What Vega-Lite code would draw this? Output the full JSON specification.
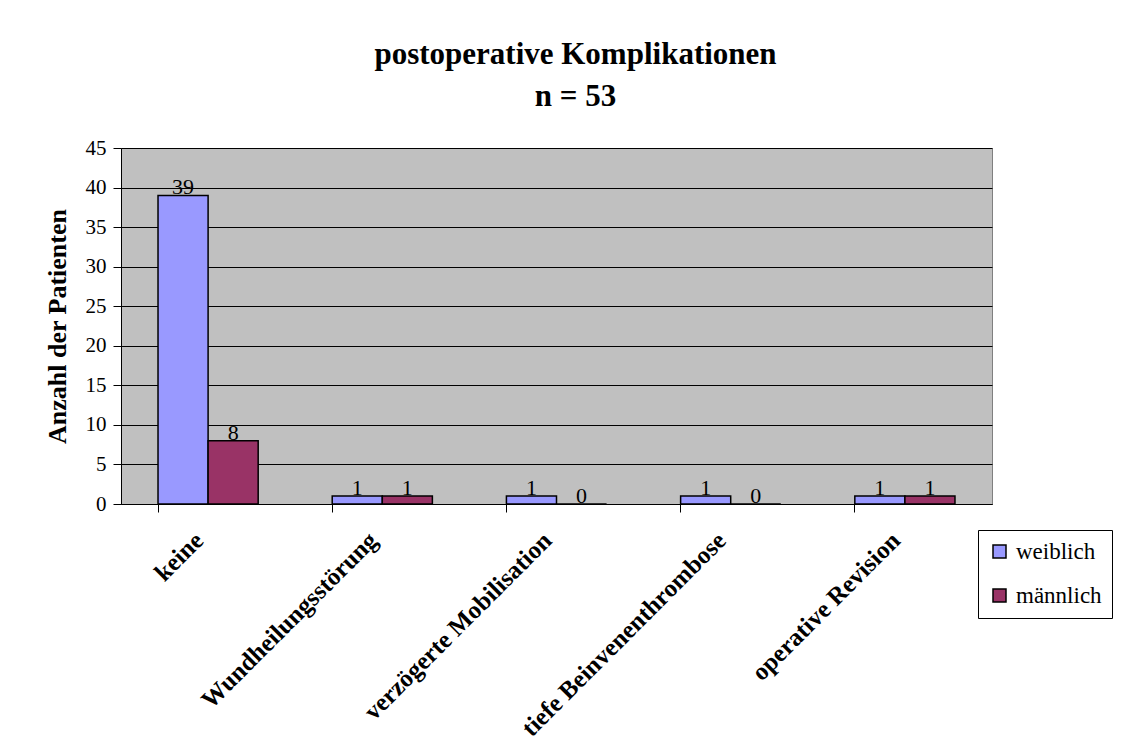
{
  "$schema": "https://vega.github.io/schema/vega-lite/v6.json",
  "autosize": "none",
  "width": 871,
  "height": 356,
  "padding": {"left": 121, "top": 148, "right": 138, "bottom": 247},
  "background": "white",
  "title": {
    "text": ["postoperative Komplikationen", "n = 53"],
    "font": "Liberation Serif",
    "fontSize": 31,
    "fontWeight": "bold",
    "color": "black",
    "lineHeight": 42,
    "anchor": "middle",
    "dx": 19,
    "offset": 24
  },
  "data": {
    "values": [
      {"k": "keine", "g": "weiblich", "n": 39},
      {"k": "keine", "g": "männlich", "n": 8},
      {"k": "Wundheilungsstörung", "g": "weiblich", "n": 1},
      {"k": "Wundheilungsstörung", "g": "männlich", "n": 1},
      {"k": "verzögerte Mobilisation", "g": "weiblich", "n": 1},
      {"k": "verzögerte Mobilisation", "g": "männlich", "n": 0},
      {"k": "tiefe Beinvenenthrombose", "g": "weiblich", "n": 1},
      {"k": "tiefe Beinvenenthrombose", "g": "männlich", "n": 0},
      {"k": "operative Revision", "g": "weiblich", "n": 1},
      {"k": "operative Revision", "g": "männlich", "n": 1}
    ]
  },
  "encoding": {
    "x": {
      "field": "k", "type": "nominal", "sort": null,
      "scale": {"paddingInner": 0.425, "paddingOuter": 0.2125},
      "axis": {
        "title": null, "labelAngle": -45, "labelAlign": "right", "labelBaseline": "middle",
        "labelFont": "Liberation Serif", "labelFontSize": 25, "labelFontWeight": "bold",
        "labelColor": "black", "labelPadding": 24, "labelOffset": -9, "bandPosition": 0,
        "tickSize": 8, "tickColor": "black", "domainColor": "black", "grid": false, "labelLimit": 400
      }
    },
    "xOffset": {"field": "g", "type": "nominal", "sort": ["weiblich", "männlich"], "scale": {"paddingInner": 0, "paddingOuter": 0}},
    "y": {
      "field": "n", "type": "quantitative",
      "scale": {"domain": [0, 45], "nice": false},
      "axis": {
        "title": "Anzahl der Patienten", "titleFont": "Liberation Serif", "titleFontSize": 26,
        "titleFontWeight": "bold", "titleColor": "black", "titlePadding": 15,
        "values": [0, 5, 10, 15, 20, 25, 30, 35, 40, 45],
        "labelFont": "Liberation Serif", "labelFontSize": 21, "labelColor": "black", "labelPadding": 7,
        "tickSize": 8, "tickColor": "black", "domainColor": "black",
        "grid": true, "gridColor": "black", "gridOpacity": 1, "gridWidth": 1
      }
    },
    "color": {
      "field": "g", "type": "nominal", "sort": ["weiblich", "männlich"],
      "scale": {"domain": ["weiblich", "männlich"], "range": ["#9999FF", "#993366"]},
      "legend": {
        "title": null, "orient": "none", "legendX": 857, "legendY": 382,
        "strokeColor": "black", "padding": 10, "fillColor": "white",
        "symbolType": "square", "symbolSize": 169, "symbolStrokeColor": "black", "symbolStrokeWidth": 1.5,
        "symbolOpacity": 1,
        "labelFont": "Liberation Serif", "labelFontSize": 23, "labelColor": "black",
        "rowPadding": 20, "labelOffset": 5
      }
    }
  },
  "layer": [
    {"mark": {"type": "bar", "stroke": "black", "strokeWidth": 1.5, "opacity": 1}},
    {"mark": {"type": "text", "baseline": "bottom", "dy": 4, "font": "Liberation Serif", "fontSize": 22, "color": "black"},
     "encoding": {"text": {"field": "n", "type": "quantitative"}, "color": {"value": "black"}}}
  ],
  "config": {
    "view": {"fill": "#C0C0C0", "stroke": "#808080", "strokeWidth": 1},
    "axis": {"domainWidth": 1, "tickWidth": 1}
  }
}
